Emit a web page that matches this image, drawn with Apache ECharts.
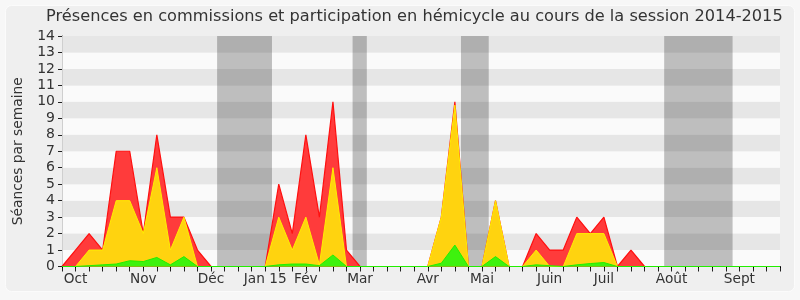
<!DOCTYPE html>
<html><head><meta charset="utf-8">
<script src="https://cdn.jsdelivr.net/npm/echarts@6/dist/echarts.min.js"></script>
<style>html,body{margin:0;padding:0;background:#f7f7f7;}#c{width:800px;height:300px;}</style>
</head><body><div id="c"></div>
<script>
const title = "Présences en commissions et participation en hémicycle au cours de la session 2014-2015";
const yName = "Séances par semaine";
const monthLabels = {1:"Oct",6:"Nov",11:"Déc",15:"Jan 15",18:"Fév",22:"Mar",27:"Avr",31:"Mai",36:"Juin",40:"Juil",45:"Août",50:"Sept"};
const total   = [0,1,2,1,7,7,2,8,3,3,1,0,0,0,0,0,5,2,8,3,10,1,0,0,0,0,0,0,3,10,0,0,4,0,0,2,1,1,3,2,3,0,1,0,0,0,0,0,0,0,0,0,0,0];
const yellow  = [0,0,1,1,4,4,2,6,1,3,0,0,0,0,0,0,3,1,3,0.1,6,0,0,0,0,0,0,0,3,9.8,0,0,4,0,0,1,0,0,2,2,2,0,0,0,0,0,0,0,0,0,0,0,0,0];
const green   = [0,0,0.05,0.1,0.15,0.35,0.3,0.55,0.1,0.6,0,0,0,0,0,0,0.1,0.15,0.15,0.05,0.7,0,0,0,0,0,0,0,0.2,1.3,0,0,0.6,0,0,0.1,0.05,0,0.1,0.18,0.24,0,0,0,0,0,0,0,0,0,0,0,0,0];
const holidays = [[11.45,15.5],[21.45,22.5],[29.45,31.5],[44.45,49.5]];

const pairs = a => a.map((v,i)=>[i,v]);
const chart = echarts.init(document.getElementById('c'));
const font = "DejaVu Sans";
chart.setOption({
  backgroundColor: 'transparent',
  animation: false,
  textStyle: {fontFamily: font},
  title: {text: title, left: 41, top: 4, textStyle: {fontFamily: font, fontSize: 16.2, fontWeight: 'normal', color: '#333'}},
  graphic: [{type:'rect', z:-10, shape:{x:5.5,y:5.5,width:789,height:286,r:6}, style:{fill:'#efefef', stroke:'#fbfbfb', lineWidth:1}}],
  grid: {left: 62, right: 20, top: 36, bottom: 33.5},
  xAxis: [{
    type: 'value', min: 0, max: 53, interval: 1,
    axisLine: {show: true, lineStyle: {color: '#222', width: 1}},
    axisTick: {show: true, length: 5, lineStyle: {color: '#222'}},
    axisLabel: {show: true, interval: 0, color: '#333', fontSize: 13.7, fontFamily: font, margin: 6, formatter: v => monthLabels[v] || ''},
    splitLine: {show: false}
  },{
    type: 'value', min: 0, max: 53, interval: 1, position: 'top',
    axisLine: {show: false},
    axisTick: {show: true, inside: true, length: 1.5, lineStyle: {color: '#000'}},
    axisLabel: {show: false}, splitLine: {show: false}
  }],
  yAxis: [{
    type: 'value', min: 0, max: 14, interval: 1,
    name: yName, nameLocation: 'middle', nameGap: 37, nameTextStyle: {fontFamily: font, fontSize: 13.8, color: '#333'},
    axisLine: {show: true, lineStyle: {color: '#222'}},
    axisTick: {show: true, length: 4, lineStyle: {color: '#222'}},
    axisLabel: {color: '#333', fontSize: 14, fontFamily: font, margin: 7},
    splitLine: {show: false},
    splitArea: {show: true, areaStyle: {color: ['#fafafa', '#e6e6e6']}}
  },{
    type: 'value', min: 0, max: 14, interval: 1, position: 'right',
    axisLine: {show: true, lineStyle: {color: '#cfcfcf'}},
    axisTick: {show: false}, axisLabel: {show: false}, splitLine: {show: false}
  }],
  series: [
    {type: 'line', data: [], z: 1, silent: true,
     markArea: {silent: true, itemStyle: {color: 'rgba(0,0,0,0.24)'}, data: holidays.map(h => [{xAxis: h[0]}, {xAxis: h[1]}])}},
    {type: 'line', data: pairs(total), symbol: 'none', z: 2, lineStyle: {color: '#ff1010', width: 1.2}, areaStyle: {color: '#ff3b3b', opacity: 1}},
    {type: 'line', data: pairs(yellow), symbol: 'none', z: 3, lineStyle: {color: '#ffee00', width: 1}, areaStyle: {color: '#ffd30f', opacity: 1}},
    {type: 'line', data: pairs(green), symbol: 'none', z: 4, lineStyle: {color: '#22ee00', width: 1}, areaStyle: {color: '#3ef20e', opacity: 1}}
  ]
});
</script></body></html>
